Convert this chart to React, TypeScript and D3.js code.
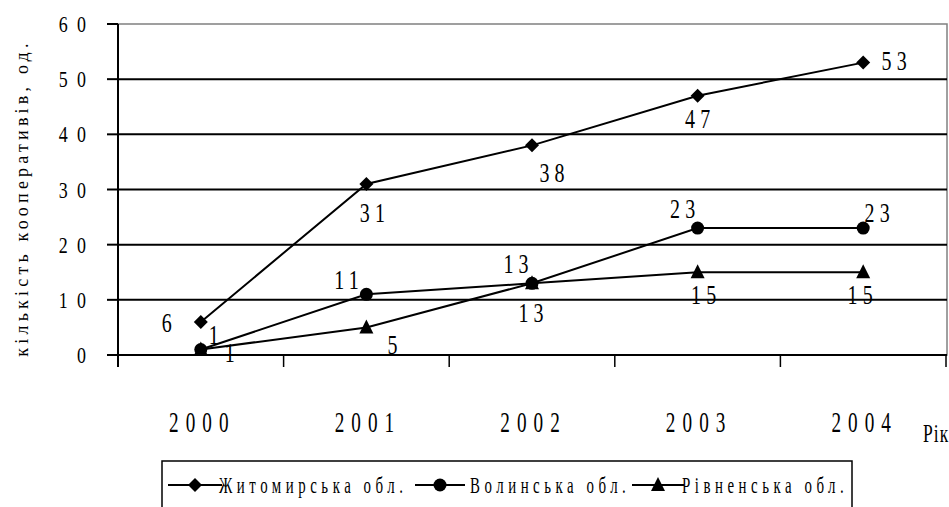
import React from 'react';
import * as d3 from 'd3';

const years = ['2000', '2001', '2002', '2003', '2004'];
const zhytomyr = [6, 31, 38, 47, 53];
const volyn = [1, 11, 13, 23, 23];
const rivne = [1, 5, 13, 15, 15];
const yTicks = [0, 10, 20, 30, 40, 50, 60];
const seriesNames = ['Житомирська обл.', 'Волинська обл.', 'Рівненська обл.'];
const yTitle = 'кількість кооперативів, од.';
const xTitle = 'Рік';

// label offsets (dx of centre, dy of baseline) relative to each point — styling only
const zhOffsets = [[-34, 10], [6, 38], [20, 37], [0, 32], [31, 7]];
const voOffsets = [[13, -5], [-20, -5], [-16, -10], [-15, -10], [14, -6]];
const rvOffsets = [[29, 13], [26, 27], [-1, 39], [6, 32], [-3, 32]];

const W = 949;
const H = 507;
const left = 118;
const right = 947;
const top = 24;
const bottom = 355;
const FONT = "'Liberation Serif', 'Times New Roman', serif";

type TProps = {
  x: number; y: number; size: number; sx?: number; ls?: number;
  anchor?: 'start' | 'middle' | 'end'; children: React.ReactNode;
};

function T({ x, y, size, sx = 1, ls = 0, anchor = 'middle', children }: TProps) {
  const dx = anchor === 'middle' ? ls / 2 : anchor === 'end' ? ls : 0;
  return (
    <text
      transform={`translate(${x},${y}) scale(${sx},1)`}
      dx={dx}
      textAnchor={anchor}
      fill="#000"
      style={{ fontFamily: FONT, fontSize: size, letterSpacing: ls }}
    >
      {children}
    </text>
  );
}

function Marker({ kind, x, y }: { kind: number; x: number; y: number }) {
  if (kind === 0) {
    const s = 7;
    return <path d={`M${x},${y - s}L${x + s},${y}L${x},${y + s}L${x - s},${y}Z`} fill="#000" />;
  }
  if (kind === 1) {
    return <circle cx={x} cy={y} r={6.5} fill="#000" />;
  }
  return <path d={`M${x},${y - 8}L${x + 7},${y + 6}L${x - 7},${y + 6}Z`} fill="#000" />;
}

export default function App() {
  const x = d3.scaleBand<string>().domain(years).range([left, 946]).padding(0);
  const y = d3.scaleLinear().domain([0, 60]).range([bottom, top]);
  const cx = (c: string) => (x(c) as number) + x.bandwidth() / 2;
  const line = d3.line<number>().x((_, i) => cx(years[i])).y((v) => y(v));

  const series = [zhytomyr, volyn, rivne];
  const offsets = [zhOffsets, voOffsets, rvOffsets];

  const boundaries = years.map((c) => x(c) as number).concat([946]);

  const legendItems = [
    { lx: 168, mx: 195, tx: 219 },
    { lx: 415, mx: 440, tx: 470 },
    { lx: 632, mx: 658, tx: 682 },
  ];

  return (
    <svg width={W} height={H} style={{ position: 'absolute', left: 0, top: 0 }}>
      <rect x={0} y={0} width={W} height={H} fill="#fff" />
      <rect x={left} y={top} width={right - left} height={bottom - top} fill="none" stroke="#808080" strokeWidth={1.5} />
      {yTicks.filter((t) => t < 60).map((t) => (
        <line key={t} x1={left} x2={right} y1={y(t)} y2={y(t)} stroke="#000" strokeWidth={2} />
      ))}
      <line x1={left} x2={left} y1={top} y2={367} stroke="#000" strokeWidth={2} />
      {yTicks.map((t) => (
        <g key={t}>
          <line x1={107} x2={left} y1={y(t)} y2={y(t)} stroke="#000" strokeWidth={2} />
          <T x={86} y={y(t) + 8} size={23} sx={0.78} ls={12} anchor="end">{String(t)}</T>
        </g>
      ))}
      {boundaries.map((b, i) => (
        <line key={i} x1={b} x2={b} y1={bottom} y2={367} stroke="#000" strokeWidth={1.5} />
      ))}
      {years.map((c) => (
        <T key={c} x={cx(c) - 2} y={432} size={30} sx={0.64} ls={11}>{c}</T>
      ))}
      <T x={923} y={442} size={25} sx={0.7} ls={1.5} anchor="start">{xTitle}</T>
      <text
        transform={`translate(28,198) rotate(-90)`}
        textAnchor="middle"
        fill="#000"
        style={{ fontFamily: FONT, fontSize: 18, letterSpacing: 4.2 }}
      >
        {yTitle}
      </text>
      {series.map((vals, si) => (
        <g key={si}>
          <path d={line(vals) as string} fill="none" stroke="#000" strokeWidth={2} />
          {vals.map((v, i) => (
            <Marker key={i} kind={si} x={cx(years[i])} y={y(v)} />
          ))}
          {vals.map((v, i) => (
            <T
              key={'l' + i}
              x={cx(years[i]) + offsets[si][i][0]}
              y={y(v) + offsets[si][i][1]}
              size={27}
              sx={0.74}
              ls={7}
            >
              {String(v)}
            </T>
          ))}
        </g>
      ))}
      <rect x={162} y={461} width={690} height={60} fill="#fff" stroke="#000" strokeWidth={1.5} />
      {legendItems.map((it, i) => (
        <g key={i}>
          <line x1={it.lx} x2={it.mx * 2 - it.lx} y1={485} y2={485} stroke="#000" strokeWidth={2} />
          <Marker kind={i} x={it.mx} y={485} />
          <T x={it.tx} y={493} size={24} sx={0.62} ls={7.3} anchor="start">{seriesNames[i]}</T>
        </g>
      ))}
    </svg>
  );
}
